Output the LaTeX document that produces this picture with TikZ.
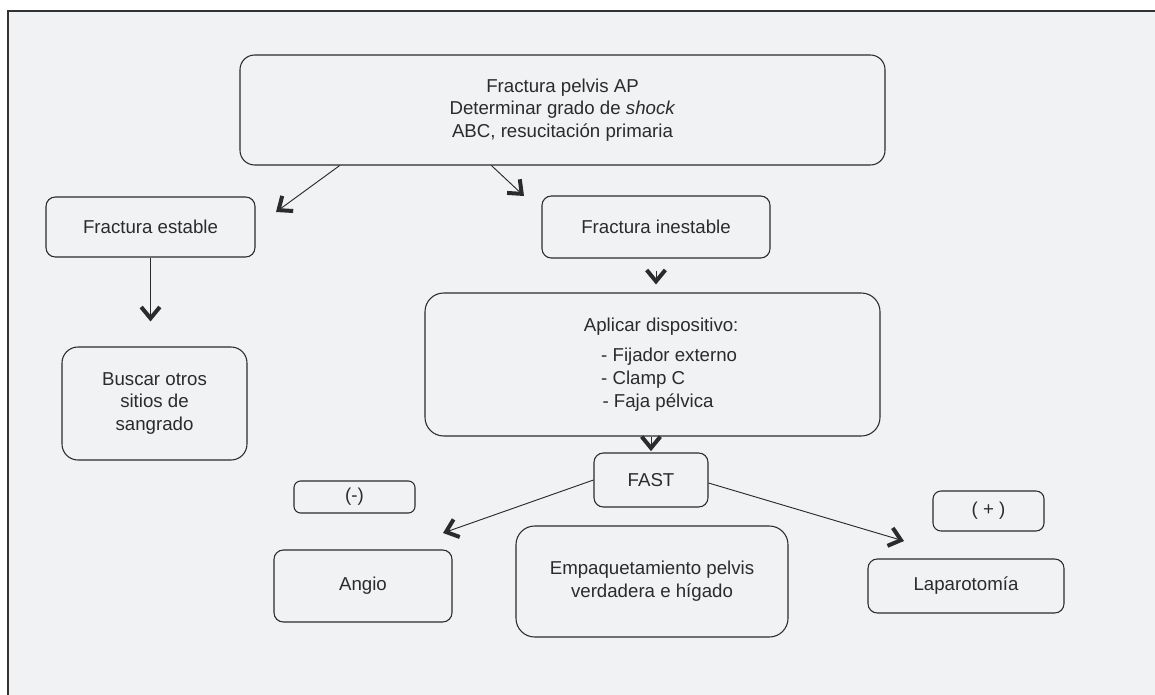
\documentclass[tikz,border=0pt]{standalone}
\usepackage{fontspec}
\setmainfont{Liberation Sans}
\usetikzlibrary{arrows.meta, calc}

\definecolor{fondo}{HTML}{F1F2F4}
\definecolor{tinta}{HTML}{2B2B2B}

\begin{document}
\begin{tikzpicture}[
    x=0.75pt, y=-0.75pt,
    >={Straight Barb[length=8.5pt, width=14pt, line width=3pt]},
    caja/.style={rectangle, rounded corners=7pt, draw=tinta, line width=0.8pt, text=tinta, align=center, font=\fontsize{14}{17}\selectfont},
    flecha/.style={draw=tinta, line width=0.7pt, ->}
]
\useasboundingbox (0,0) rectangle (1155,695);

% Fondo y marco
\fill[fondo] (8,11) rectangle (1155,695);
\draw[line width=1.1pt, draw=black!80] (8,695) -- (8,11) -- (1155,11);

% Caja principal
\node[caja, rounded corners=11pt, minimum width=483.75pt, minimum height=82.5pt] (inicio) at (562.5,110)
    {Fractura pelvis AP\\Determinar grado de \textit{shock}\\ABC, resucitación primaria};

% Rama estable
\node[caja, minimum width=156.75pt, minimum height=45pt] (estable) at (150.5,227) {Fractura estable};
\node[caja, rounded corners=12pt, minimum width=138.75pt, minimum height=84.75pt] (buscar) at (154.5,403.5)
    {Buscar otros\\sitios de\\sangrado};

% Rama inestable
\node[caja, minimum width=171pt, minimum height=46.5pt] (inestable) at (656,227) {Fractura inestable};
\node[caja, align=left, rounded corners=14pt, minimum width=341.25pt, minimum height=107.25pt] (aplicar) at (652.5,364.5)
    {\hspace*{13pt}Aplicar dispositivo:\\[6pt]
     \hspace*{26pt}- Fijador externo\\
     \hspace*{26pt}- Clamp C\\
     \hspace*{27pt}- Faja pélvica};
\node[caja, minimum width=85.5pt, minimum height=40.5pt] (fast) at (651,480) {FAST};

% Resultados del FAST
\node[caja, rounded corners=5pt, minimum width=90.75pt, minimum height=24pt] (negativo) at (354.5,497) {(-)};
\node[caja, minimum width=133.5pt, minimum height=54pt] (angio) at (363,586) {Angio};
\node[caja, rounded corners=14pt, minimum width=204pt, minimum height=83.25pt] (empaque) at (652,581.5)
    {Empaquetamiento pelvis\\verdadera e hígado};
\node[caja, rounded corners=6pt, minimum width=83.25pt, minimum height=30pt] (positivo) at (988.5,511) {( + )};
\node[caja, minimum width=147pt, minimum height=40.5pt] (laparo) at (966,586) {Laparotomía};

% Puntas libres de las flechas
\coordinate (pEst) at (276,212);
\coordinate (pIne) at (524,196);
\coordinate (pAng) at (443,533);
\coordinate (pLap) at (904,541);

% Flechas
\draw[flecha] (inicio.194) -- (pEst);
\draw[flecha] (inicio.218) -- (pIne);
\draw[flecha, shorten >=18.75pt] (estable.south) -- (estable.south |- buscar.north);
\draw[flecha, shorten <=9pt, shorten >=6pt] (inestable.south) -- (inestable.south |- aplicar.north);
\draw[flecha, shorten >=1pt] (aplicar.south -| fast.north) -- (fast.north);
\draw[flecha] (fast.west) -- (pAng);
\draw[flecha] ($(fast.east)+(0,3)$) -- (pLap);

\end{tikzpicture}
\end{document}
